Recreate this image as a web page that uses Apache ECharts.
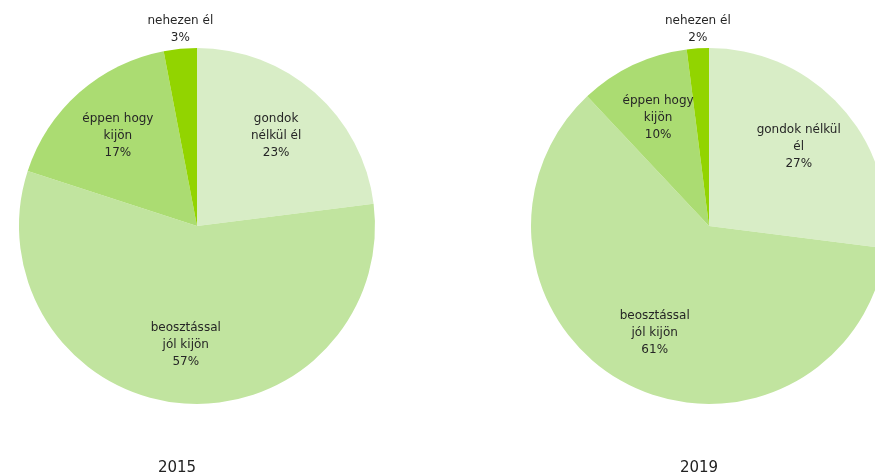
<!DOCTYPE html>
<html>
<head>
<meta charset="utf-8">
<script src="https://cdn.jsdelivr.net/npm/echarts@6/dist/echarts.min.js"></script>
<style>
  html, body { margin: 0; padding: 0; background: #fff; }
  #chart { width: 875px; height: 476px; }
</style>
</head>
<body>
<div id="chart"></div>
<script>
// adatok
var categories = ['gondok nélkül él', 'beosztással jól kijön', 'éppen hogy kijön', 'nehezen él'];
var years = ['2015', '2019'];
var values2015 = [23, 57, 17, 3];
var values2019 = [27, 61, 10, 2];
// címkék sortöréssel (ahogy az eredetin)
var labels2015 = ['gondok\nnélkül él', 'beosztással\njól kijön', 'éppen hogy\nkijön', 'nehezen él'];
var labels2019 = ['gondok nélkül\nél', 'beosztással\njól kijön', 'éppen hogy\nkijön', 'nehezen él'];

var colors = ['#d8edc6', '#c1e49f', '#abdc72', '#92d400'];
var textColor = '#262626';
var fontFamily = 'DejaVu Sans';

function makePie(values, labels, center) {
  return {
    type: 'pie',
    radius: 178,
    center: center,
    startAngle: 90,
    clockwise: true,
    silent: true,
    animation: false,
    data: values.map(function (v, i) {
      return {
        name: categories[i],
        value: v,
        label: { formatter: labels[i] + '\n' + v + '%' }
      };
    }),
    label: {
      show: true,
      position: 'inside',
      color: textColor,
      fontFamily: fontFamily,
      fontSize: 12,
      lineHeight: 17
    },
    labelLine: { show: false },
    labelLayout: function (p) {
      var r = p.labelRect;
      var lx = r.x + r.width / 2;
      var ly = r.y + r.height / 2;
      // kis szelet: címke a szelet fölé
      if (values[p.dataIndex] < 5) {
        return {
          x: p.rect.x + p.rect.width / 2,
          y: p.rect.y - 2,
          align: 'center',
          verticalAlign: 'bottom'
        };
      }
      // többi: kicsit kijjebb a középponttól
      return {
        x: center[0] + (lx - center[0]) * 1.3,
        y: center[1] + (ly - center[1]) * 1.3,
        align: 'center',
        verticalAlign: 'middle'
      };
    }
  };
}

var chart = echarts.init(document.getElementById('chart'));
chart.setOption({
  color: colors,
  animation: false,
  title: [
    {
      text: years[0], left: 177, top: 461, padding: 0, textAlign: 'center',
      textStyle: { color: '#222', fontFamily: fontFamily, fontSize: 15, fontWeight: 'normal' }
    },
    {
      text: years[1], left: 699, top: 461, padding: 0, textAlign: 'center',
      textStyle: { color: '#222', fontFamily: fontFamily, fontSize: 15, fontWeight: 'normal' }
    }
  ],
  series: [
    makePie(values2015, labels2015, [197, 226]),
    makePie(values2019, labels2019, [709, 226])
  ]
});
</script>
</body>
</html>
